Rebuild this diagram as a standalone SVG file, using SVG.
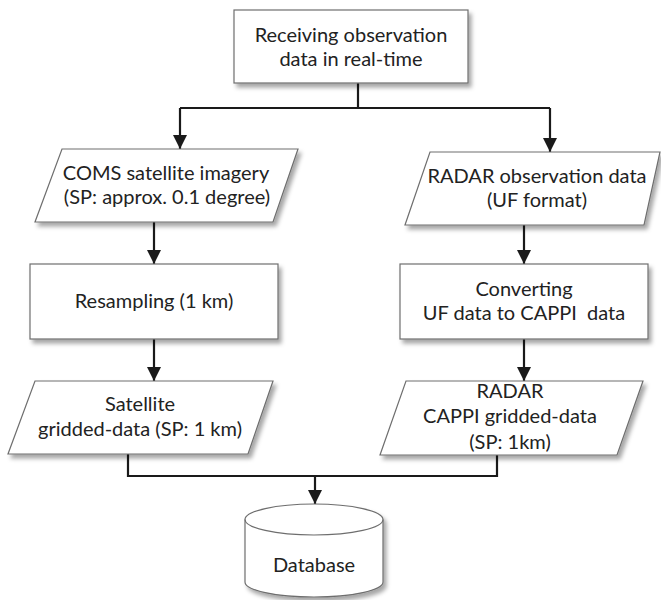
<svg xmlns="http://www.w3.org/2000/svg" width="661" height="600" viewBox="0 0 661 600">
<defs>
<filter id="sh" x="-10%" y="-10%" width="130%" height="140%">
<feDropShadow dx="3" dy="4" stdDeviation="2.2" flood-color="#000" flood-opacity="0.35"/>
</filter>
<marker id="ah" viewBox="0 0 14 14" markerWidth="14" markerHeight="14" refX="14" refY="7" orient="auto" markerUnits="userSpaceOnUse">
<path d="M0,0 L14,7 L0,14 z" fill="#1a1a1a"/>
</marker>
<style>
.n{fill:#fff;stroke:#6e6e6e;stroke-width:1.2;filter:url(#sh)}
.t{font-family:Lato,"Open Sans",sans-serif;font-size:20px;fill:#222;text-anchor:middle}
.c{fill:none;stroke:#1a1a1a;stroke-width:2.2}
</style>
</defs>
<rect width="661" height="600" fill="#fff"/>
<g id="connectors">
<path class="c" d="M358,83 V108"/>
<path class="c" d="M180,108 H550"/>
<path class="c" d="M180,108 V149" marker-end="url(#ah)"/>
<path class="c" d="M550,108 V152" marker-end="url(#ah)"/>
<path class="c" d="M154,222 V264" marker-end="url(#ah)"/>
<path class="c" d="M524,225 V264" marker-end="url(#ah)"/>
<path class="c" d="M154,339 V381" marker-end="url(#ah)"/>
<path class="c" d="M524,339 V381" marker-end="url(#ah)"/>
<path class="c" d="M128,454 V476 H497 V455"/>
<path class="c" d="M315,476 V504" marker-end="url(#ah)"/>
</g>
<g id="receiving">
<rect class="n" x="234" y="10" width="234" height="73"/>
<text class="t" x="351" y="42">Receiving observation</text>
<text class="t" x="351" y="66">data in real-time</text>
</g>
<g id="coms">
<polygon class="n" points="62,149 298,149 273,222 35,222"/>
<text class="t" x="166" y="180">COMS satellite imagery</text>
<text class="t" x="167" y="204">(SP: approx. 0.1 degree)</text>
</g>
<g id="radar-obs">
<polygon class="n" points="430,152 660,152 644,225 405,225"/>
<text class="t" x="537" y="183">RADAR observation data</text>
<text class="t" x="537" y="207">(UF format)</text>
</g>
<g id="resampling">
<rect class="n" x="30" y="264" width="248" height="75"/>
<text class="t" x="154" y="308">Resampling (1 km)</text>
</g>
<g id="converting">
<rect class="n" x="400" y="264" width="248" height="75"/>
<text class="t" x="524" y="296">Converting</text>
<text class="t" x="524" y="320" xml:space="preserve">UF data to CAPPI  data</text>
</g>
<g id="satellite-grid">
<polygon class="n" points="35,381 273,381 248,454 8,454"/>
<text class="t" x="140" y="411">Satellite</text>
<text class="t" x="140" y="436">gridded-data (SP: 1 km)</text>
</g>
<g id="radar-grid">
<polygon class="n" points="406,381 643,381 617,455 380,455"/>
<text class="t" x="510" y="398">RADAR</text>
<text class="t" x="510" y="423">CAPPI gridded-data</text>
<text class="t" x="510" y="449">(SP: 1km)</text>
</g>
<g id="database">
<path class="n" d="M245,519.5 A69,15.5 0 0 1 383,519.5 V582 A69,15 0 0 1 245,582 Z"/>
<path d="M245,519.5 A69,15.5 0 0 0 383,519.5" fill="none" stroke="#6e6e6e" stroke-width="1.2"/>
<text class="t" x="314" y="572">Database</text>
</g>
</svg>
